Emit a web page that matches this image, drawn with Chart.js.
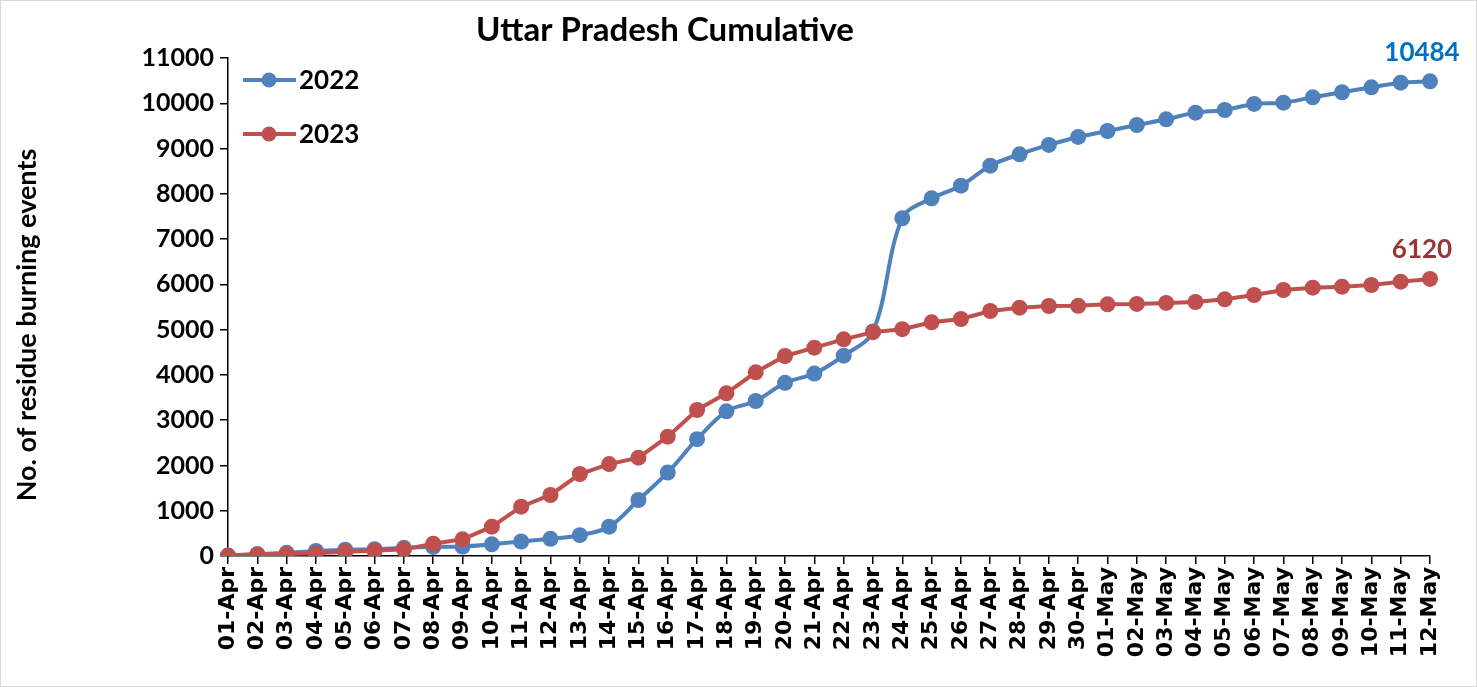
<!DOCTYPE html>
<html>
<head>
<meta charset="utf-8">
<script src="https://cdn.jsdelivr.net/npm/chart.js@4"></script>
<style>
  html, body { margin: 0; padding: 0; background: #fff; }
  #wrap { width: 1477px; height: 687px; }
</style>
</head>
<body>
<div id="wrap"><canvas id="upChart" width="1477" height="687"></canvas></div>
<script>
// dias (01-Apr .. 12-May)
const days = [
  "01-Apr", "02-Apr", "03-Apr", "04-Apr", "05-Apr", "06-Apr", "07-Apr", "08-Apr", "09-Apr", "10-Apr",
  "11-Apr", "12-Apr", "13-Apr", "14-Apr", "15-Apr", "16-Apr", "17-Apr", "18-Apr", "19-Apr", "20-Apr",
  "21-Apr", "22-Apr", "23-Apr", "24-Apr", "25-Apr", "26-Apr", "27-Apr", "28-Apr", "29-Apr", "30-Apr",
  "01-May", "02-May", "03-May", "04-May", "05-May", "06-May", "07-May", "08-May", "09-May", "10-May",
  "11-May", "12-May"
];

// valores
const events2022 = [
  10, 40, 70, 110, 140, 150, 180, 200, 210, 258,
  320, 380, 460, 648, 1237, 1845, 2580, 3195, 3424, 3825,
  4030, 4425, 4960, 7460, 7900, 8180, 8622, 8873, 9080, 9256,
  9388, 9520, 9646, 9793, 9852, 9985, 10014, 10132, 10243, 10353,
  10455, 10484
];

const events2023 = [
  7, 37, 44, 59, 96, 118, 147, 270, 368, 648,
  1090, 1348, 1811, 2030, 2172, 2636, 3225, 3594, 4058, 4418,
  4602, 4786, 4945, 5010, 5162, 5235, 5412, 5485, 5522, 5525,
  5560, 5567, 5590, 5610, 5670, 5765, 5876, 5927, 5949, 5986,
  6059, 6120
];

const yTicks = [0, 1000, 2000, 3000, 4000, 5000, 6000, 7000, 8000, 9000, 10000, 11000];

const chartTitle = "Uttar Pradesh Cumulative";
const yTitle = "No. of residue burning events";

const blue = "#4F81BD";
const red = "#C0504D";

// titulo, titulo do eixo y, legenda dentro do grafico, rotulo do ultimo ponto e moldura
const extras = {
  id: "extras",
  beforeDraw(chart) {
    const ctx = chart.ctx;
    ctx.save();
    ctx.fillStyle = "#fff";
    ctx.fillRect(0, 0, chart.width, chart.height);
    ctx.strokeStyle = "#d9d9d9";
    ctx.lineWidth = 1;
    ctx.strokeRect(0.5, 0.5, chart.width - 1, chart.height - 1);
    ctx.restore();
  },
  afterDraw(chart) {
    const ctx = chart.ctx;
    ctx.save();
    ctx.fillStyle = "#000";
    ctx.font = "bold 33px Lato";
    ctx.textAlign = "center";
    ctx.textBaseline = "middle";
    ctx.fillText(chartTitle, 665, 30);

    // titulo do eixo y (vertical)
    ctx.save();
    ctx.translate(27, 325);
    ctx.rotate(-Math.PI / 2);
    ctx.font = "bold 27px Lato";
    ctx.fillText(yTitle, 0, 0);
    ctx.restore();

    // legenda
    chart.data.datasets.forEach((ds, i) => {
      const y = 80 + i * 54;
      ctx.strokeStyle = ds.borderColor;
      ctx.lineWidth = 4;
      ctx.beginPath();
      ctx.moveTo(243, y);
      ctx.lineTo(296, y);
      ctx.stroke();
      ctx.fillStyle = ds.borderColor;
      ctx.beginPath();
      ctx.arc(269, y, 7.5, 0, Math.PI * 2);
      ctx.fill();
      ctx.fillStyle = "#000";
      ctx.font = "bold 26px Lato";
      ctx.textAlign = "left";
      ctx.fillText(ds.label, 299, y + 1);
    });

    // rotulo do ultimo valor
    chart.data.datasets.forEach((ds, i) => {
      const meta = chart.getDatasetMeta(i);
      const last = meta.data[meta.data.length - 1];
      ctx.fillStyle = ds.labelColor;
      ctx.font = "bold 26px Lato";
      ctx.textAlign = "center";
      ctx.fillText(ds.data[ds.data.length - 1], last.x - 8, last.y - 29);
    });
    ctx.restore();
  }
};

new Chart(document.getElementById("upChart"), {
  type: "line",
  data: {
    labels: days,
    datasets: [
      {
        label: "2022",
        data: events2022,
        borderColor: blue,
        backgroundColor: blue,
        labelColor: "#0070C0",
        borderWidth: 4,
        pointRadius: 8,
        pointBorderWidth: 0,
        tension: 0.35,
        order: 1
      },
      {
        label: "2023",
        data: events2023,
        borderColor: red,
        backgroundColor: red,
        labelColor: "#953735",
        borderWidth: 4,
        pointRadius: 8,
        pointBorderWidth: 0,
        tension: 0,
        order: 0
      }
    ]
  },
  options: {
    responsive: false,
    animation: false,
    layout: { padding: { top: 58, right: 47, left: 0, bottom: 0 } },
    plugins: {
      legend: { display: false },
      tooltip: { enabled: false }
    },
    scales: {
      x: {
        offset: false,
        afterFit: s => { s.height = 131; },
        border: { color: "#000", width: 1.5 },
        grid: { drawOnChartArea: false, color: "#000", tickLength: 8, lineWidth: 1.5 },
        ticks: {
          autoSkip: false,
          maxRotation: 90,
          minRotation: 90,
          color: "#000",
          padding: 3,
          font: { family: "DejaVu Sans", weight: "bold", size: 22 }
        }
      },
      y: {
        min: 0,
        max: 11000,
        afterFit: s => { s.width = 228; },
        afterBuildTicks: s => { s.ticks = yTicks.map(v => ({ value: v })); },
        border: { color: "#000", width: 1.5 },
        grid: { drawOnChartArea: false, color: "#000", tickLength: 8, lineWidth: 1.5 },
        ticks: {
          color: "#000",
          padding: 6,
          callback: v => String(v),
          font: { family: "Lato", weight: "bold", size: 25 }
        }
      }
    }
  },
  plugins: [extras]
});
</script>
</body>
</html>
